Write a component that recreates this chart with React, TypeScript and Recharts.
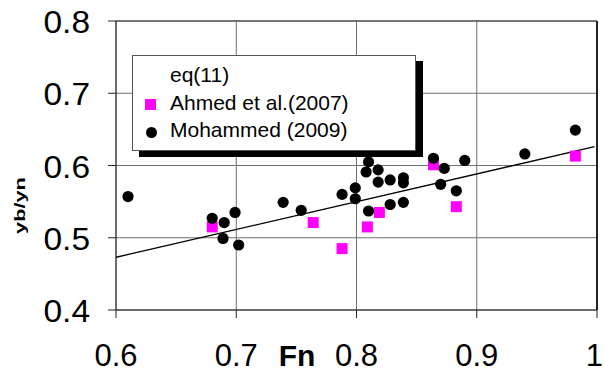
import { ScatterChart, Scatter, XAxis, YAxis, CartesianGrid, ReferenceLine, Legend } from "recharts"

const xTicks = [0.6, 0.7, 0.8, 0.9, 1]
const yTicks = [0.4, 0.5, 0.6, 0.7, 0.8]

// eq(11) fitted line end points
const eqFn = [0.6, 0.998]
const eqYb = [0.473, 0.626]

const ahmedFn = [0.68, 0.764, 0.788, 0.809, 0.819, 0.864, 0.883, 0.982]
const ahmedYb = [0.515, 0.521, 0.485, 0.515, 0.535, 0.601, 0.543, 0.613]

const mohFn = [
  0.61, 0.68, 0.69, 0.689, 0.699, 0.702, 0.739, 0.754, 0.788, 0.799, 0.799, 0.81, 0.808, 0.81,
  0.818, 0.818, 0.828, 0.828, 0.839, 0.839, 0.839, 0.864, 0.873, 0.87, 0.883, 0.89, 0.94, 0.982,
]
const mohYb = [
  0.557, 0.527, 0.521, 0.499, 0.535, 0.49, 0.549, 0.538, 0.56, 0.569, 0.554, 0.605, 0.591, 0.537,
  0.594, 0.577, 0.58, 0.546, 0.583, 0.576, 0.549, 0.61, 0.596, 0.574, 0.565, 0.607, 0.616, 0.649,
]

const seriesNames = ["eq(11)", "Ahmed et al.(2007)", "Mohammed (2009)"]

const zip = (xs: number[], ys: number[]) => xs.map((x, i) => ({ x, y: ys[i] }))

const FONT = "'Liberation Sans', Arial, sans-serif"

const XTick = (props: any) => {
  const { x, y, payload } = props
  const last = payload.value === 1
  return (
    <text
      x={last ? 603 : x}
      y={y + 46}
      textAnchor={last ? "end" : "middle"}
      fontFamily={FONT}
      fontSize={31}
      fill="#000"
    >
      {last ? "1" : payload.value.toFixed(1)}
    </text>
  )
}

const YTick = (props: any) => {
  const { x, y, payload } = props
  return (
    <text
      transform={`translate(${x - 16} ${y + 12}) scale(1.08 1)`}
      textAnchor="end"
      fontFamily={FONT}
      fontSize={31}
      fill="#000"
    >
      {payload.value.toFixed(1)}
    </text>
  )
}

const Square = (props: any) => <rect x={props.cx - 5.5} y={props.cy - 5.5} width={11} height={11} fill="#ff00ff" />
const Dot = (props: any) => <circle cx={props.cx} cy={props.cy} r={5.6} fill="#000" />
const NoShape = () => <g />

const LegendBox = () => (
  <div
    style={{
      position: "relative",
      width: 284,
      height: 96,
      boxSizing: "border-box",
      border: "1px solid #555",
      background: "#fff",
      boxShadow: "7px 6px 0 #000",
      fontFamily: FONT,
      fontSize: 21,
      color: "#000",
    }}
  >
    {seriesNames.map((name, i) => (
      <div key={name} style={{ position: "absolute", left: 0, top: 5 + i * 27.5, height: 27, width: 280 }}>
        {i === 1 && (
          <div style={{ position: "absolute", left: 12, top: 10, width: 11, height: 11, background: "#ff00ff" }} />
        )}
        {i === 2 && (
          <div
            style={{ position: "absolute", left: 13, top: 11, width: 11, height: 11, borderRadius: 6, background: "#000" }}
          />
        )}
        <span style={{ position: "absolute", left: 37, top: 1, lineHeight: "26px", whiteSpace: "nowrap" }}>{name}</span>
      </div>
    ))}
  </div>
)

export default function App() {
  return (
    <div style={{ position: "absolute", left: 0, top: 0, width: 604, height: 374, background: "#fff" }}>
      <ScatterChart width={604} height={374} margin={{ top: 21, right: 7, left: 0, bottom: 0 }}>
        <CartesianGrid stroke="#707070" strokeWidth={1} />
        <XAxis
          type="number"
          dataKey="x"
          domain={[0.6, 1]}
          ticks={xTicks}
          height={64}
          tickSize={8}
          tick={<XTick />}
          stroke="#222"
          allowDataOverflow
        />
        <YAxis
          type="number"
          dataKey="y"
          domain={[0.4, 0.8]}
          ticks={yTicks}
          width={116}
          tickSize={8}
          tick={<YTick />}
          stroke="#222"
          allowDataOverflow
        />
        <ReferenceLine x={1} stroke="#222" strokeWidth={2} />
        <ReferenceLine y={0.8} stroke="#333" strokeWidth={1} />
        <Scatter
          name={seriesNames[0]}
          data={zip(eqFn, eqYb)}
          line={{ stroke: "#000", strokeWidth: 1.3 }}
          shape={NoShape}
          isAnimationActive={false}
        />
        <Scatter name={seriesNames[1]} data={zip(ahmedFn, ahmedYb)} shape={Square} isAnimationActive={false} />
        <Scatter name={seriesNames[2]} data={zip(mohFn, mohYb)} shape={Dot} isAnimationActive={false} />
        <Legend
          layout="vertical"
          align="center"
          verticalAlign="middle"
          content={<LegendBox />}
          wrapperStyle={{ left: 132, top: 55, width: 284, height: 96 }}
        />
        <text x={297} y={366} textAnchor="middle" fontFamily={FONT} fontSize={30} fontWeight="bold" fill="#000">
          Fn
        </text>
        <text
          transform="translate(25 205.5) rotate(-90) scale(1.45 1)"
          textAnchor="middle"
          fontFamily={FONT}
          fontSize={15}
          fontWeight="bold"
          fill="#000"
        >
          yb/yn
        </text>
      </ScatterChart>
    </div>
  )
}
